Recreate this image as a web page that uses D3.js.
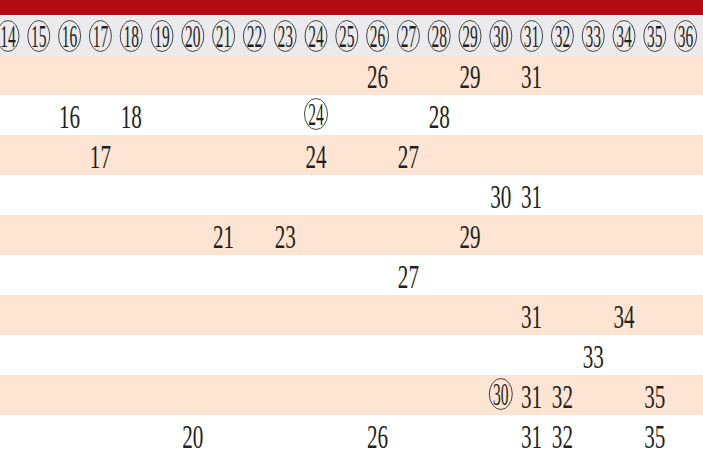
<!DOCTYPE html>
<meta charset="utf-8">
<head>
    <title>Number table</title>
    <style>
        body { margin: 0; background: #fff; }
        svg { display: block; }
    </style>
</head>
<body>
    <script src="https://cdn.jsdelivr.net/npm/d3@7"></script>
    <script>
        // header numbers (all circled)
        var columns = [14, 15, 16, 17, 18, 19, 20, 21, 22, 23, 24, 25, 26, 27, 28, 29, 30, 31, 32, 33, 34, 35, 36];

        // numbers shown in each row
        var rowNumbers = [
            [26, 29, 31],
            [16, 18, 24, 28],
            [17, 24, 27],
            [30, 31],
            [21, 23, 29],
            [27],
            [31, 34],
            [33],
            [30, 31, 32, 35],
            [20, 26, 31, 32, 35]
        ];

        // numbers drawn with a ring in each row
        var rowCircled = [[], [24], [], [], [], [], [], [], [30], []];

        var width = 703, height = 455;
        var serif = "'Liberation Serif', 'Times New Roman', serif";

        var svg = d3.select("body")
            .append("svg")
            .attr("width", width)
            .attr("height", height);

        var x = d3.scaleLinear()
            .domain([14, 36])
            .range([8, 685.6]);

        var y = d3.scaleBand()
            .domain(d3.range(rowNumbers.length))
            .range([55, 455]);

        // header bar
        svg.append("rect")
            .attr("x", 0).attr("y", 0)
            .attr("width", width).attr("height", 15)
            .attr("fill", "#b10d15");
        svg.append("rect")
            .attr("x", 0).attr("y", 16)
            .attr("width", width).attr("height", 39)
            .attr("fill", "#ebebed");

        // row stripes
        svg.selectAll("rect.row")
            .data(rowNumbers)
            .enter()
            .append("rect")
            .attr("class", "row")
            .attr("x", 0)
            .attr("y", function (d, i) { return y(i); })
            .attr("width", width)
            .attr("height", y.bandwidth())
            .attr("fill", function (d, i) { return i % 2 === 0 ? "#fde4d3" : "#ffffff"; });

        // draw a ringed number
        function ringed(g, n, cx, cy, rx, ry) {
            g.append("ellipse")
                .attr("cx", cx).attr("cy", cy)
                .attr("rx", rx).attr("ry", ry)
                .attr("fill", "none")
                .attr("stroke", "#333")
                .attr("stroke-width", 0.9);
            g.append("text")
                .attr("transform", "translate(" + cx + "," + (cy + 10.5) + ") scale(0.5,1)")
                .attr("text-anchor", "middle")
                .attr("font-family", serif)
                .attr("font-size", 31)
                .attr("fill", "#231f20")
                .text(n);
        }

        var head = svg.append("g");
        columns.forEach(function (c) {
            ringed(head, c, x(c), 36, 11, 15.5);
        });

        // row numbers
        rowNumbers.forEach(function (nums, i) {
            var g = svg.append("g");
            var cy = y(i) + y.bandwidth() / 2;
            nums.forEach(function (n) {
                if (rowCircled[i].indexOf(n) >= 0) {
                    ringed(g, n, x(n), cy - 1, 11.5, 15.5);
                } else {
                    g.append("text")
                        .attr("transform", "translate(" + x(n) + "," + (y(i) + 33) + ") scale(0.64,1)")
                        .attr("text-anchor", "middle")
                        .attr("font-family", serif)
                        .attr("font-size", 33)
                        .attr("fill", "#231f20")
                        .text(n);
                }
            });
        });
    </script>
</body>
</html>
